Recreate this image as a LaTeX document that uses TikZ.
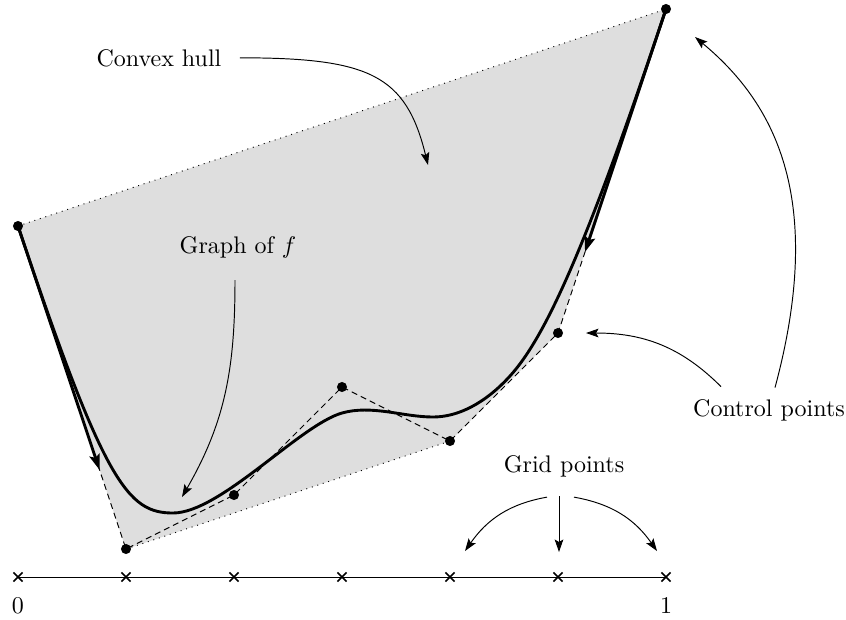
\documentclass[tikz,border=0pt]{standalone}
\usetikzlibrary{arrows.meta,shapes.misc,calc}
\begin{document}
\begin{tikzpicture}[x=0.41667pt, y=-0.41667pt,
  ctrl/.style={circle, fill=black, inner sep=0pt, minimum size=4.2pt},
  gridmark/.style={cross out, draw, line width=0.6pt, inner sep=0pt, minimum size=3.2pt},
  lbl/.style={anchor=base},
  thinarr/.style={-{Stealth[length=5.2pt,width=3.6pt,inset=1pt]}, line width=0.4pt},
  tanarr/.style={-{Stealth[length=6.5pt,width=4.4pt,inset=1.2pt]}, line width=1.2pt},
  curve/.style={line width=1.2pt},
  hull/.style={fill=black!13},
  ctrlpoly/.style={dash pattern=on 2.5pt off 1.7pt, line width=0.4pt},
  hulledge/.style={dotted, line width=0.4pt}]
\useasboundingbox (0,0) rectangle (846,619);
% control point positions
\coordinate (c0) at (18,226);
\coordinate (c1) at (126,549);
\coordinate (c2) at (234,495);
\coordinate (c3) at (342,387);
\coordinate (c4) at (450,441);
\coordinate (c5) at (558,333);
\coordinate (c6) at (666,9);
% convex hull
\fill[hull] (c0) -- (c6) -- (c5) -- (c4) -- (c1) -- cycle;
\draw[hulledge] (c0) -- (c6);
\draw[hulledge] (c1) -- (c4);
% control polygon
\draw[ctrlpoly] (c0) -- (c1) -- (c2) -- (c3) -- (c4) -- (c5) -- (c6);
% graph of f
\coordinate (k1) at (173,513);
\coordinate (k2) at (342,413);
\coordinate (k3) at (433,417);
\coordinate (k4) at (510,376);
\draw[curve] (c0) .. controls (104.4,484.4) and (128,513) .. (k1)
  .. controls (220,513) and (300,425) .. (k2)
  .. controls (372,404.5) and (403,417) .. (k3)
  .. controls (458,417) and (485,403.5) .. (k4)
  .. controls (545,337.5) and (586,249) .. (c6);
% tangent arrows
\coordinate (t0) at ($(c0)!0.755!(c1)$);
\coordinate (t6) at ($(c6)!0.75!(c5)$);
\draw[tanarr] (c0) -- (t0);
\draw[tanarr] (c6) -- (t6);
% control point dots
\foreach \i in {0,...,6} \node[ctrl] (p\i) at (c\i) {};
% grid axis
\foreach \i in {0,...,6} \node[gridmark] (g\i) at (18+108*\i,577) {};
\draw[line width=0.4pt] (g0.center) -- (g6.center);
\node[lbl] (l0) at (18,613) {0};
\node[lbl] (l1) at (666,613) {1};
% labels
\node[lbl] (conv) at (159,66) {Convex hull};
\node[lbl] (gof) at (238,253) {Graph of $f$};
\node[lbl] (cp) at (769,416) {Control points};
\node[lbl] (gp) at (564,472) {Grid points};
% arrow targets
\coordinate (hulltip) at (428,165);
\coordinate (goftip) at (182,497);
\coordinate (cptipA) at (586,333);
\coordinate (cptipB) at (695,37);
\coordinate (gptipL) at (465,551);
\coordinate (gptipM) at (559,552);
\coordinate (gptipR) at (657,551);
% label connectors
\draw[thinarr] ($(conv.east)+(10,0)$) .. controls +(130,0) and +(-22,-90) .. (hulltip);
\draw[thinarr] ($(gof.south)+(-3,14)$) to[out=-90,in=60] (goftip);
\draw[thinarr] ($(cp.north)+(-48,-4)$) to[out=135,in=0] (cptipA);
\draw[thinarr] ($(cp.north)+(6,-3)$) .. controls +(52,-193) and +(77,64) .. (cptipB);
\draw[thinarr] ($(gp.south)+(-17,12)$) to[out=190,in=55] (gptipL);
\draw[thinarr] ($(gp.south)+(-5,11)$) -- (gptipM);
\draw[thinarr] ($(gp.south)+(10,12)$) to[out=-10,in=125] (gptipR);
\end{tikzpicture}
\end{document}
